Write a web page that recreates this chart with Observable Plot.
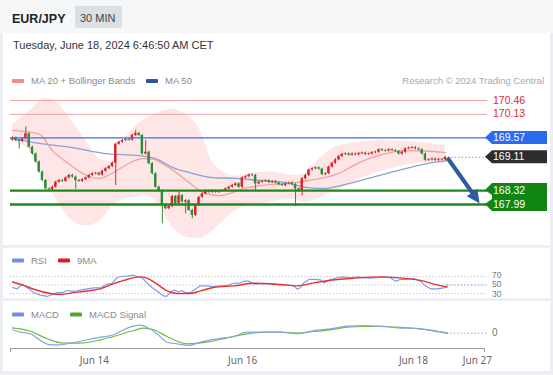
<!DOCTYPE html>
<html><head><meta charset="utf-8">
<script src="https://cdn.jsdelivr.net/npm/d3@7"></script>
<script src="https://cdn.jsdelivr.net/npm/@observablehq/plot@0.6"></script>
<style>
html,body{margin:0;padding:0}
body{width:553px;height:375px;overflow:hidden;background:#eceef1;position:relative;font-family:"Liberation Sans",Arial,sans-serif}
.abs{position:absolute}
.panel{position:absolute;background:#fff}
svg{display:block}
</style></head><body>
<div class="abs" style="left:0;top:0;width:553px;height:33px;background:#f6f7f8"></div>
<div class="panel" style="left:3px;top:33px;width:547px;height:212px"></div>
<div class="panel" style="left:3px;top:248px;width:547px;height:50px"></div>
<div class="panel" style="left:3px;top:301px;width:547px;height:70px"></div>
<div id="mainBox" class="abs" style="left:0;top:88px"></div>
<div id="rsiBox" class="abs" style="left:0;top:266px"></div>
<div id="macdBox" class="abs" style="left:0;top:318px"></div>
<svg id="ov" class="abs" style="left:0;top:0;pointer-events:none" width="553" height="375"></svg>
<script>
// ---------- DATA ----------
const symbol = "EUR/JPY";
const timeframe = "30 MIN";
const stamp = "Tuesday, June 18, 2024 6:46:50 AM CET";
const credit = "Research \u00a9 2024 Trading Central";

const firstOpen = 169.52;
const closes = [
 169.57,169.51,169.49,169.55,169.67,169.35,169.19,169.00,168.76,168.56,
 168.36,168.34,168.40,168.52,168.56,168.54,168.62,168.68,168.64,168.56,
 168.54,168.58,168.62,168.68,168.72,168.73,168.69,168.78,168.84,168.89,
 168.97,169.42,169.47,169.51,169.53,169.52,169.63,169.68,169.63,169.19,
 169.23,168.96,168.72,168.40,168.31,167.97,167.89,167.94,168.18,168.01,
 168.20,168.05,168.08,167.85,167.73,167.97,168.16,168.24,168.31,168.28,
 168.32,168.28,168.31,168.32,168.36,168.40,168.44,168.48,168.40,168.62,
 168.65,168.69,168.68,168.48,168.52,168.54,168.55,168.51,168.53,168.50,
 168.46,168.44,168.48,168.50,168.46,168.36,168.31,168.60,168.68,168.81,
 168.84,168.86,168.83,168.70,168.72,168.88,168.97,169.05,169.13,169.18,
 169.19,169.16,169.19,169.17,169.20,169.21,169.18,169.19,169.22,169.23,
 169.29,169.27,169.26,169.29,169.27,169.25,169.19,169.23,169.31,169.33,
 169.34,169.31,169.29,169.19,169.04,169.05,169.07,169.04,169.06,169.05,
 169.11];
const highWicks = [[4,169.83],[37,169.75],[40,169.51],[50,168.28]];
const lowWicks = [[2,169.31],[19,168.35],[31,168.44],[45,167.53],[52,167.77],[54,167.65],[73,168.32],[85,167.94],[87,168.20]];

const bollIdx = [0,5,10,14,18,22,26,30,33,36,40,44,48,52,56,60,63,67,72,78,84,88,92,96,100,105,110,115,120,125,130];
const bollUpper = [169.89,170.20,170.50,170.36,169.95,169.51,169.08,169.00,169.45,169.78,170.02,170.17,170.25,170.12,169.80,169.00,168.78,168.66,168.74,168.76,168.68,168.72,169.05,169.32,169.42,169.48,169.51,169.50,169.48,169.44,169.39];
const bollLower = [169.50,169.28,168.55,168.00,167.60,167.48,167.58,167.95,168.10,168.15,168.20,167.98,167.45,167.22,167.18,167.35,167.58,167.85,167.97,168.06,168.11,168.05,168.14,168.28,168.42,168.62,168.76,168.86,168.95,168.98,168.96];
const ma20 = [[0,169.75],[8,169.66],[12,169.27],[17,168.95],[21,168.73],[26,168.61],[31,168.78],[35,168.97],[39,169.08],[42,169.07],[45,168.96],[52,168.58],[56,168.33],[62,168.20],[70,168.38],[77,168.46],[83,168.49],[89,168.56],[98,168.73],[104,168.98],[112,169.20],[118,169.27],[124,169.26],[130,169.22]];
const ma50 = [[0,169.56],[8,169.44],[18,169.34],[28,169.20],[38,169.15],[43,169.08],[48,168.87],[54,168.73],[60,168.63],[67,168.61],[74.5,168.56],[82,168.51],[88.5,168.39],[93.5,168.37],[98.5,168.44],[105.5,168.58],[114.5,168.77],[124.5,168.96],[130.5,169.03]];

const resistance = [170.46, 170.13];
const pivot = 169.57;
const lastPrice = 169.11;
const support = [168.32, 167.99];
const forecast = [{from: 130.6, fromPrice: 169.10, to: 140.4, toPrice: 168.01}];

const rsi = [[0,44],[1.4,41],[2.9,52],[4.4,44],[6.4,32],[8.4,26],[10.4,23],[11.9,28],[13.4,32],[14.9,32],[16.4,37],[17.9,35],[19.4,36],[22.4,41],[24.4,43],[26.4,43],[28.4,52],[29.9,54],[31.4,67],[32.4,70],[34.4,71],[36.4,73],[37.4,70],[38.9,67],[40.4,55],[41.9,44],[43.4,36],[45.4,24],[46.4,24],[47.4,32],[48.4,38],[49.9,34],[50.9,37],[51.9,32],[53.4,32],[54.9,40],[56.4,48],[58.4,48],[60.4,46],[62.5,48],[64.5,49],[66.5,54],[68.5,55],[69.5,59],[71,59],[72.5,52],[74.5,53],[76.5,53],[78.5,52],[80.5,50],[82.5,50],[84.5,48],[85.5,40],[86.5,44],[87.5,55],[89,63],[90.5,63],[92.5,62],[93.5,55],[95.5,63],[97.5,67],[99.5,69],[101.5,67],[103.5,69],[105.5,67],[107.5,66],[109.5,67],[111.5,69],[113.5,67],[115,59],[116.5,63],[118.5,63],[120.5,65],[122.5,59],[124,48],[125.5,41],[127.5,41],[129.5,43],[130.5,48]];
const rsiMA = [[0,57],[3.4,49],[6.4,40],[11.4,30],[14.4,28],[18.4,32],[22.4,36],[26.4,41],[30.4,53],[34.4,63],[38.4,69],[40.4,66],[43.4,52],[46.4,36],[49.4,30],[53.4,30],[56.4,36],[60.4,44],[66.5,48],[72.5,54],[80.5,51],[85.5,48],[90.5,55],[95.5,61],[102.5,66],[110.5,69],[118.5,65],[122.5,61],[126.5,52],[130.5,45]];
const rsiLevels = [70, 50, 30];

const macd = [[0,0.034],[2.4,0.01],[5.4,-0.006],[8.4,-0.073],[11.4,-0.116],[14.4,-0.116],[17.4,-0.10],[21.4,-0.073],[26.4,-0.04],[30.4,-0.016],[33.4,0.034],[36.4,0.07],[38.4,0.08],[40.4,0.06],[43.4,-0.006],[46.4,-0.09],[49.4,-0.106],[52.9,-0.123],[56.4,-0.09],[61.5,-0.056],[66.5,-0.033],[70.5,0.01],[74.5,0.01],[80.5,0.01],[85.5,-0.006],[90.5,0.027],[95.5,0.044],[100.5,0.07],[105.5,0.077],[110.5,0.07],[115.5,0.054],[122.5,0.044],[126.5,0.02],[130.5,0]];
const macdSignal = [[0,0.054],[5.4,0.02],[10.4,-0.056],[15.4,-0.10],[20.4,-0.10],[26.4,-0.066],[31.4,-0.023],[36.4,0.027],[39.4,0.05],[42.4,0.034],[46.4,-0.033],[52.4,-0.106],[58.4,-0.09],[64.5,-0.046],[70.5,-0.006],[76.5,0.01],[80.5,0.01],[85.5,0.003],[90.5,0.017],[95.5,0.033],[100.5,0.06],[105.5,0.067],[110.5,0.067],[115.5,0.06],[122.5,0.044],[126.5,0.027],[130.5,0.003]];

const tickIdx = [24.6, 69.1, 120.4, 139.6];
const tickLabels = ["Jun 14", "Jun 16", "Jun 18", "Jun 27"];

// ---------- TABLES ----------
const hiMap = new Map(highWicks), loMap = new Map(lowWicks);
const candles = closes.map((c, i) => {
  const o = i === 0 ? firstOpen : closes[i - 1];
  const hi = hiMap.has(i) ? hiMap.get(i) : Math.max(o, c) + 0.025;
  const lo = loMap.has(i) ? loMap.get(i) : Math.min(o, c) - 0.025;
  const mid = (o + c) / 2, half = Math.max(Math.abs(c - o) / 2, 0.008);
  return {i, o, c, hi, lo, up: c >= o, top: mid + half, bot: mid - half};
});
const boll = bollIdx.map((i, k) => ({i, lo: bollLower[k], hi: bollUpper[k]}));
const lastIdx = closes.length - 1;

const xDomain = [-0.6, 142.64];
const W = 553;
const UP = "#dc2428", DOWN = "#2f8a3c";
const ARROW = "#2c5b9e";
const common = {width: W, marginLeft: 10, marginRight: 66, marginTop: 0,
  x: {domain: xDomain, axis: null}, style: {background: "none", overflow: "visible"}};

// filled arrow head, positioned through the plot's own scales
function arrowHead(data, len, halfW) {
  return (index, scales) => {
    const g = d3.create("svg:g");
    for (const d of data) {
      const x1 = scales.x(d.from), y1 = scales.y(d.fromPrice);
      const x2 = scales.x(d.to), y2 = scales.y(d.toPrice);
      const a = Math.atan2(y2 - y1, x2 - x1);
      const bx = x2 - len * Math.cos(a), by = y2 - len * Math.sin(a);
      const px = -Math.sin(a) * halfW, py = Math.cos(a) * halfW;
      g.append("polygon").attr("fill", ARROW)
        .attr("points", `${x2},${y2} ${bx + px},${by + py} ${bx - px},${by - py}`);
    }
    return g.node();
  };
}

// ---------- MAIN ----------
const main = Plot.plot({
  ...common, height: 157, marginBottom: 0,
  y: {domain: [167.016, 170.745], axis: null},
  marks: [
    Plot.areaY(boll, {x: "i", y1: "lo", y2: "hi", fill: "#fee6e6", curve: "monotone-x"}),
    Plot.line(ma50, {x: d => d[0], y: d => d[1], stroke: "#8aa3d0", strokeWidth: 1.3, curve: "monotone-x"}),
    Plot.line(ma20, {x: d => d[0], y: d => d[1], stroke: "#f4a0a0", strokeWidth: 1.3, curve: "monotone-x"}),
    Plot.ruleY(resistance, {stroke: "#f5a3a3", strokeWidth: 1}),
    Plot.ruleX(candles, {x: "i", y1: "lo", y2: "hi", stroke: d => d.up ? UP : DOWN, strokeWidth: 1}),
    Plot.rect(candles, {x1: d => d.i - 0.36, x2: d => d.i + 0.36, y1: "bot", y2: "top", fill: d => d.up ? UP : DOWN}),
    Plot.ruleY([pivot], {stroke: "#3d6fe0", strokeWidth: 1.2}),
    Plot.ruleY(support, {stroke: "#1b8a1b", strokeWidth: 2.4}),
    Plot.ruleY([lastPrice], {x1: lastIdx + 0.8, x2: xDomain[1], stroke: "#8c9bb5", strokeDasharray: "1.5,2", strokeWidth: 1}),
    Plot.link(forecast, {x1: "from", y1: "fromPrice", x2: d => d.from + (d.to - d.from) * 0.8, y2: d => d.fromPrice + (d.toPrice - d.fromPrice) * 0.8, stroke: ARROW, strokeWidth: 4}),
    arrowHead(forecast, 13, 6.5)
  ]
});
document.getElementById("mainBox").appendChild(main);

// ---------- RSI ----------
const rsiChart = Plot.plot({
  ...common, height: 32, marginBottom: 0,
  y: {domain: [18.2, 93.5], axis: null},
  marks: [
    Plot.ruleY(rsiLevels, {stroke: "#b5b5b5", strokeDasharray: "1,2.2", strokeWidth: 1}),
    Plot.ruleY([50], {x1: 130.5, x2: xDomain[1], stroke: "#8fa8ee", strokeDasharray: "1.5,2", strokeWidth: 1}),
    Plot.line(rsi, {x: d => d[0], y: d => d[1], stroke: "#7f9cf0", strokeWidth: 1.2}),
    Plot.line(rsiMA, {x: d => d[0], y: d => d[1], stroke: "#e8332d", strokeWidth: 1.4, curve: "monotone-x"})
  ]
});
document.getElementById("rsiBox").appendChild(rsiChart);

// ---------- MACD ----------
const tickMap = new Map(tickIdx.map((d, k) => [d, tickLabels[k]]));
const macdChart = Plot.plot({
  ...common, height: 57, marginBottom: 27,
  y: {domain: [-0.153, 0.147], axis: null},
  marks: [
    Plot.ruleY([0], {x1: 130.5, x2: xDomain[1], stroke: "#8fa8ee", strokeDasharray: "1.5,2", strokeWidth: 1}),
    Plot.line(macdSignal, {x: d => d[0], y: d => d[1], stroke: "#6cbf3c", strokeWidth: 1.2, curve: "monotone-x"}),
    Plot.line(macd, {x: d => d[0], y: d => d[1], stroke: "#87a2ee", strokeWidth: 1.2, curve: "monotone-x"}),
    Plot.ruleY([-0.153], {x1: xDomain[0], x2: 141.7, stroke: "#9a9a9a", strokeWidth: 1}),
    Plot.ruleX([xDomain[0], 141.7], {y1: -0.153, y2: -0.193, stroke: "#9a9a9a", strokeWidth: 1}),
    Plot.axisX({ticks: tickIdx, tickFormat: d => tickMap.get(d), tickSize: 0, tickPadding: 8, fontSize: 10, color: "#666", anchor: "bottom"})
  ]
});
document.getElementById("macdBox").appendChild(macdChart);

// ---------- OVERLAY TEXT & TAGS ----------
const ov = d3.select("#ov");
const font = '"Liberation Sans", Arial, sans-serif';
function txt(x, y, s, size, color, weight, anchor) {
  ov.append("text").attr("x", x).attr("y", y).text(s)
    .attr("font-family", font).attr("font-size", size).attr("fill", color)
    .attr("font-weight", weight || "normal").attr("text-anchor", anchor || "start");
}
// header
ov.append("rect").attr("x", 75).attr("y", 6).attr("width", 47).attr("height", 22).attr("fill", "#dcdfe4").attr("rx", 1);
txt(12, 23, symbol, 12.5, "#222", "bold");
txt(80, 21.5, timeframe, 11, "#444");
txt(13, 48.5, stamp, 11, "#333");
// legends
function legend(x, y, color, label) {
  ov.append("rect").attr("x", x).attr("y", y - 5).attr("width", 12).attr("height", 4).attr("fill", color).attr("rx", 1);
  txt(x + 19, y, label, 9.5, "#8a8a8a");
}
legend(12, 84, "#f28b8b", "MA 20 + Bollinger Bands");
legend(146, 84, "#2f5597", "MA 50");
txt(544, 84, credit, 9.5, "#a8a8a8", "normal", "end");
legend(12, 263.5, "#6d8fe6", "RSI");
legend(58, 263.5, "#e31a1a", "9MA");
legend(12, 317.5, "#6d8fe6", "MACD");
legend(70, 317.5, "#4ea82a", "MACD Signal");

// price tags via the chart's own y scale
const yM = v => 88 + main.scale("y").apply(v);
const yR = v => 266 + rsiChart.scale("y").apply(v);
const yD = v => 318 + macdChart.scale("y").apply(v);
const X0 = 485, X1 = 547;
resistance.forEach(v => txt(493, yM(v) + 3.6, v.toFixed(2), 10.5, "#e4262b"));
function tag(v, fill) {
  const y = yM(v), h = 6.5;
  ov.append("polygon").attr("points", `${X0},${y} ${X0 + 7},${y - h} ${X1},${y - h} ${X1},${y + h} ${X0 + 7},${y + h}`).attr("fill", fill);
  txt(493, y + 3.6, v.toFixed(2), 10.5, "#fff");
}
tag(pivot, "#2b6bf0");
tag(lastPrice, "#2e2e2e");
{
  const ya = yM(support[0]), yb = yM(support[1]);
  ov.append("polygon").attr("points",
    `${X0 + 7},${ya - 7} ${X1},${ya - 7} ${X1},${yb + 7} ${X0 + 7},${yb + 7} ${X0},${yb} ${X0 + 7},${yb - 5} ${X0 + 7},${ya + 5} ${X0},${ya}`)
    .attr("fill", "#118511");
  support.forEach(v => txt(493, yM(v) + 3.6, v.toFixed(2), 10.5, "#fff"));
}
// RSI level labels (tightly packed as in the reference)
const rsiNudge = [-0.8, 0, 0.8];
rsiLevels.forEach((v, k) => txt(492, yR(v) + 3 + rsiNudge[k], String(v), 8.5, "#777"));
txt(492, yD(0) + 3.6, "0", 10, "#777");
</script>
</body></html>
